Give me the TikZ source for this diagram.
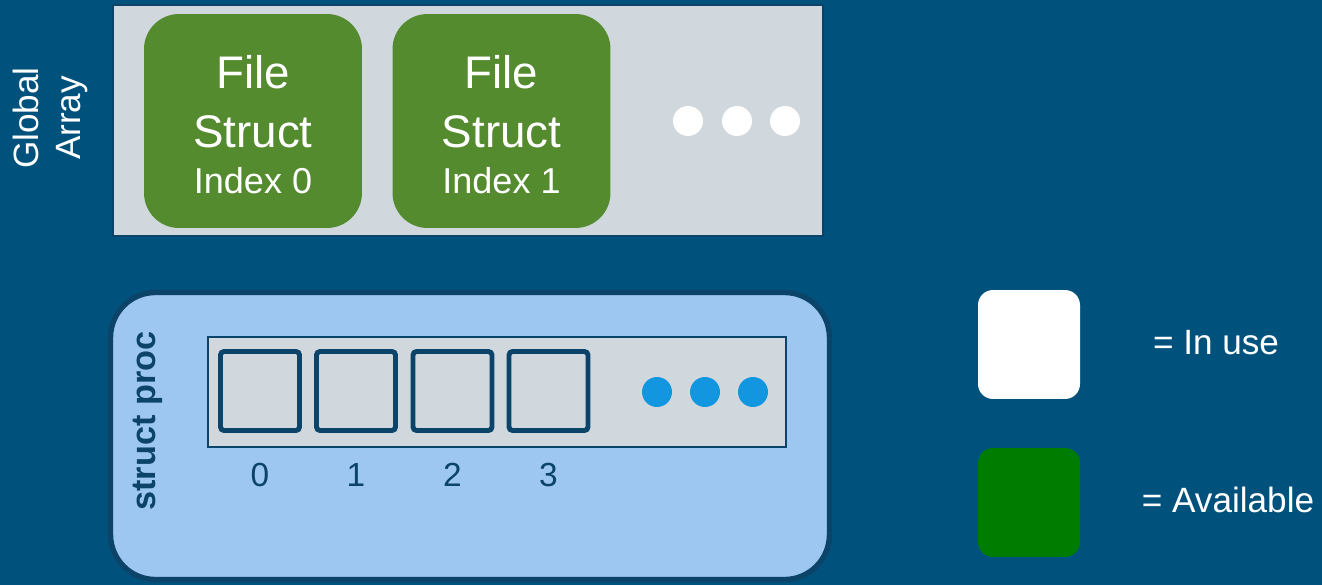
\documentclass[tikz,border=0pt]{standalone}
\usepackage{fontspec}
\setmainfont{Liberation Sans}
\definecolor{bgblue}{HTML}{00527C}
\definecolor{panelgray}{HTML}{D0D8DE}
\definecolor{filegreen}{HTML}{558B2F}
\definecolor{navy}{HTML}{0B4468}
\definecolor{procblue}{HTML}{9DC6F0}
\definecolor{dotblue}{HTML}{1296E0}
\definecolor{freegreen}{HTML}{007D00}
\newcommand{\fs}[1]{\fontsize{#1}{1.2\dimexpr#1pt\relax}\selectfont}

\begin{document}
\begin{tikzpicture}[x=0.02cm, y=-0.02cm,
  filebox/.style={fill=filegreen, rounded corners=0.7cm, minimum width=4.36cm, minimum height=4.28cm, inner sep=0pt},
  filetext/.style={text=white, anchor=base, inner sep=0pt},
  cellbox/.style={draw=navy, line width=2.8pt, fill=panelgray, rounded corners=2pt, minimum size=1.58cm, inner sep=0pt},
  dotnode/.style={circle, minimum size=0.6cm, inner sep=0pt},
  legendbox/.style={rounded corners=0.3cm, minimum width=2.04cm, minimum height=2.18cm, inner sep=0pt}]
  % Background
  \fill[bgblue] (0,0) rectangle (1322,585);
  % Global array panel
  \node[draw=navy, line width=0.8pt, fill=panelgray, minimum width=14.2cm, minimum height=4.62cm, inner sep=0pt] (global) at (468,120.5) {};
  \node[rotate=90, text=white, align=center, font=\fs{20}] (globallabel) at (50,118) {Global\\Array};
  % File structs
  \foreach \i/\x in {0/253,1/501.5} {
    \node[filebox] (file\i) at (\x,121) {};
    \node[filetext, font=\fs{26}] (file\i a) at (\x,88) {File};
    \node[filetext, font=\fs{26}] (file\i b) at (\x,147) {Struct};
    \node[filetext, font=\fs{20.5}] (file\i c) at (\x,193) {Index \i};
  }
  \foreach \k/\x in {1/688,2/737,3/785}
    \node[dotnode, fill=white] (gdot\k) at (\x,121) {};
  % struct proc
  \node[draw=navy, line width=3pt, fill=procblue, rounded corners=0.9cm, minimum width=14.38cm, minimum height=5.74cm, inner sep=0pt] (proc) at (470,436) {};
  \node[rotate=90, text=navy, font=\fs{19.5}\bfseries] (proclabel) at (148,421) {struct proc};
  \node[draw=navy, line width=0.8pt, fill=panelgray, minimum width=11.56cm, minimum height=2.2cm, inner sep=0pt] (fdarray) at (497,392) {};
  \foreach \i/\x in {0/260,1/356,2/452.5,3/548.5} {
    \node[cellbox] (cell\i) at (\x,391) {};
    \node[text=navy, font=\fs{19}] (idx\i) at (\x,475) {\i};
  }
  \foreach \k/\x in {1/657,2/705,3/753}
    \node[dotnode, fill=dotblue] (pdot\k) at (\x,392) {};
  % Legend
  \node[legendbox, fill=white] (inuse) at (1029,344.5) {};
  \node[text=white, font=\fs{20}] (inusetext) at (1216,343) {= In use};
  \node[legendbox, fill=freegreen] (avail) at (1029,502.5) {};
  \node[text=white, font=\fs{20}] (availtext) at (1228,500) {= Available};
\end{tikzpicture}
\end{document}
